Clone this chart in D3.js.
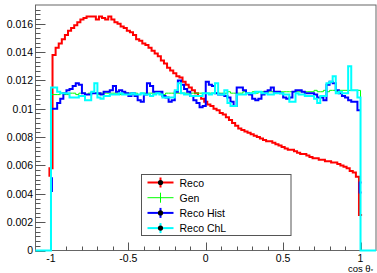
<!DOCTYPE html>
<html lang="en">
<head>
<meta charset="utf-8">
<title>cos theta</title>
<script src="https://d3js.org/d3.v7.min.js"></script>
<style>
  body { margin: 0; background: #fff; }
  svg text { font-family: "Liberation Sans", Arial, sans-serif; fill: #000; }
</style>
</head>
<body>
<div id="chart"></div>
<script>
// histogram binning (cos theta*, 100 bins on [-1,1]; Reco drawn on shifted bins)
var binLo = -1, binWidth = 0.02;
var redLo = -1.01;

// Reco (red)
var redStart = 0.0052;
var recoValues = [0.0058,
  0.0138,0.0143,0.0146,0.0149,0.0152,0.0155,0.0157,0.0159,0.0161,0.0163,
  0.0164,0.0165,0.0165,0.0165,0.0163,0.0165,0.0164,0.0163,0.0165,0.0163,
  0.0161,0.0160,0.0158,0.0157,0.0155,0.0154,0.0152,0.0149,0.0148,0.0146,
  0.0145,0.0143,0.0141,0.0139,0.0137,0.0134,0.0132,0.0129,0.0127,0.0125,
  0.0123,0.0122,0.0119,0.0117,0.0115,0.0113,0.0111,0.0109,0.0107,0.0105,
  0.0103,0.0102,0.0100,0.0099,0.0097,0.0096,0.0094,0.0092,0.0090,0.0088,
  0.0086,0.0085,0.0084,0.0083,0.0082,0.0081,0.0080,0.0079,0.0078,0.0077,
  0.0077,0.0076,0.0075,0.0074,0.0073,0.0072,0.0071,0.0071,0.0070,0.0069,
  0.0068,0.0068,0.0067,0.0066,0.0065,0.0065,0.0064,0.0064,0.0063,0.0063,
  0.0062,0.0062,0.0061,0.0060,0.0059,0.0058,0.0056,0.0055,0.0052,
  0.0025];

// Gen (green)
var genValues = [
  0.0110,0.0110,0.0110,0.0111,0.0110,0.0110,0.0111,0.0111,0.0110,0.0111,
  0.0111,0.0110,0.0111,0.0111,0.0111,0.0110,0.0111,0.0111,0.0111,0.0111,
  0.0111,0.0111,0.0110,0.0111,0.0111,0.0111,0.0111,0.0111,0.0110,0.0111,
  0.0111,0.0111,0.0111,0.0111,0.0111,0.0111,0.0110,0.0111,0.0111,0.0111,
  0.0111,0.0111,0.0111,0.0111,0.0111,0.0111,0.0111,0.0111,0.0111,0.0111,
  0.0111,0.0111,0.0111,0.0111,0.0111,0.0111,0.0111,0.0112,0.0111,0.0111,
  0.0111,0.0111,0.0112,0.0111,0.0111,0.0112,0.0111,0.0112,0.0112,0.0111,
  0.0112,0.0112,0.0112,0.0111,0.0112,0.0112,0.0112,0.0112,0.0112,0.0112,
  0.0112,0.0112,0.0112,0.0112,0.0112,0.0113,0.0112,0.0112,0.0113,0.0112,
  0.0113,0.0113,0.0112,0.0113,0.0113,0.0113,0.0113,0.0113,0.0113,0.0113];

// Reco Hist (blue)
var histValues = [
  0.0100,0.0100,0.0104,0.0107,0.0111,0.0113,0.0114,0.0116,0.0118,0.0117,
  0.0111,0.0110,0.0110,0.0111,0.0111,0.0111,0.0110,0.0112,0.0112,0.0113,
  0.0116,0.0112,0.0113,0.0112,0.0111,0.0109,0.0111,0.0109,0.0106,0.0105,
  0.0110,0.0118,0.0116,0.0112,0.0112,0.0112,0.0109,0.0108,0.0105,0.0106,
  0.0112,0.0120,0.0117,0.0114,0.0112,0.0109,0.0106,0.0104,0.0101,0.0102,
  0.0119,0.0117,0.0116,0.0111,0.0110,0.0110,0.0109,0.0108,0.0105,0.0102,
  0.0115,0.0115,0.0113,0.0111,0.0110,0.0107,0.0106,0.0107,0.0110,0.0112,
  0.0113,0.0115,0.0112,0.0112,0.0111,0.0108,0.0107,0.0108,0.0112,0.0113,
  0.0113,0.0112,0.0111,0.0111,0.0111,0.0110,0.0108,0.0108,0.0106,0.0117,
  0.0119,0.0118,0.0113,0.0111,0.0109,0.0108,0.0106,0.0105,0.0105,0.0099];
// edge bins of Reco Hist drawn as bars [x, hi, lo]
var histEdges = [[-1, 0.0051, 0.0042], [1, 0.0048, 0.0041]];

// Reco ChL (cyan)
var chlValues = [
  0.0115,0.0115,0.0112,0.0111,0.0111,0.0111,0.0108,0.0108,0.0108,0.0109,
  0.0109,0.0106,0.0106,0.0112,0.0118,0.0108,0.0107,0.0109,0.0109,0.0110,
  0.0110,0.0110,0.0111,0.0110,0.0110,0.0110,0.0111,0.0110,0.0110,0.0111,
  0.0110,0.0110,0.0109,0.0110,0.0111,0.0110,0.0108,0.0108,0.0108,0.0108,
  0.0113,0.0118,0.0111,0.0110,0.0110,0.0109,0.0109,0.0109,0.0109,0.0111,
  0.0111,0.0110,0.0111,0.0118,0.0110,0.0110,0.0113,0.0104,0.0102,0.0102,
  0.0110,0.0110,0.0110,0.0111,0.0111,0.0111,0.0112,0.0112,0.0111,0.0111,
  0.0110,0.0110,0.0111,0.0111,0.0111,0.0110,0.0110,0.0105,0.0105,0.0111,
  0.0110,0.0110,0.0109,0.0109,0.0109,0.0107,0.0104,0.0109,0.0109,0.0118,
  0.0119,0.0123,0.0111,0.0112,0.0111,0.0111,0.0130,0.0113,0.0113,0.0108];

var xTicks = [-1, -0.5, 0, 0.5, 1];
var xTickLabels = ["-1", "-0.5", "0", "0.5", "1"];
var yTicks = [0, 0.002, 0.004, 0.006, 0.008, 0.01, 0.012, 0.014, 0.016];
var yTickLabels = ["0", "0.002", "0.004", "0.006", "0.008", "0.01", "0.012", "0.014", "0.016"];
var legendNames = ["Reco", "Gen", "Reco Hist", "Reco ChL"];
var legendColors = ["#ff0000", "#00ff00", "#0000ff", "#00ffff"];
var legendMarker = [true, false, true, true];

var width = 377, height = 273;
var padL = 35.5, padR = 376, padT = 5, padB = 250.5;

var x = d3.scaleLinear().domain([-1.1, 1.1]).range([padL, padR]);
var y = d3.scaleLinear().domain([0, 0.01732]).range([padB, padT]);

var svg = d3.select("#chart").append("svg")
    .attr("width", width)
    .attr("height", height);

// frame
svg.append("rect")
    .attr("x", padL).attr("y", padT)
    .attr("width", padR - padL).attr("height", padB - padT)
    .attr("fill", "none").attr("stroke", "#666").attr("stroke-width", 1);

// y axis ticks (inside)
var yMinor = d3.range(0, 0.01732, 0.002 / 6);
svg.selectAll(".ymin").data(yMinor).enter().append("line")
    .attr("x1", padL).attr("x2", padL + 5)
    .attr("y1", function(d) { return Math.round(y(d)) + 0.5; })
    .attr("y2", function(d) { return Math.round(y(d)) + 0.5; })
    .attr("stroke", "#555");
svg.selectAll(".ymaj").data(yTicks).enter().append("line")
    .attr("x1", padL).attr("x2", padL + 10)
    .attr("y1", function(d) { return Math.round(y(d)) + 0.5; })
    .attr("y2", function(d) { return Math.round(y(d)) + 0.5; })
    .attr("stroke", "#555");
svg.selectAll(".ylab").data(yTicks).enter().append("text")
    .attr("x", 33)
    .attr("y", function(d) { return y(d) + 3.8; })
    .attr("text-anchor", "end")
    .style("font-size", "10.5px")
    .text(function(d, i) { return yTickLabels[i]; });

// x axis ticks (inside)
var xMinor = d3.range(-1, 1.05, 0.1);
svg.selectAll(".xmin").data(xMinor).enter().append("line")
    .attr("x1", function(d) { return Math.round(x(d)) + 0.5; })
    .attr("x2", function(d) { return Math.round(x(d)) + 0.5; })
    .attr("y1", padB).attr("y2", padB - 4)
    .attr("stroke", "#555");
svg.selectAll(".xmaj").data(xTicks).enter().append("line")
    .attr("x1", function(d) { return Math.round(x(d)) + 0.5; })
    .attr("x2", function(d) { return Math.round(x(d)) + 0.5; })
    .attr("y1", padB).attr("y2", padB - 8)
    .attr("stroke", "#555");
svg.selectAll(".xlab").data(xTicks).enter().append("text")
    .attr("x", function(d) { return x(d); })
    .attr("y", 262)
    .attr("text-anchor", "middle")
    .style("font-size", "10.5px")
    .text(function(d, i) { return xTickLabels[i]; });

// axis title
var title = svg.append("text")
    .attr("x", 373).attr("y", 271.5)
    .attr("text-anchor", "end")
    .style("font-size", "9.5px");
title.append("tspan").text("cos θ");
title.append("tspan").attr("dy", 1.5).style("font-size", "6px").text("*");

// step path for a histogram
function stepPath(lo, w, values, startVal, closeZero) {
  var p = d3.path();
  p.moveTo(x(lo), y(startVal));
  values.forEach(function(v, i) {
    p.lineTo(x(lo + i * w), y(v));
    p.lineTo(x(lo + (i + 1) * w), y(v));
  });
  if (closeZero) p.lineTo(x(lo + values.length * w), y(0));
  return p.toString();
}

var plot = svg.append("g");

plot.append("path")
    .attr("d", stepPath(redLo, binWidth, recoValues, redStart, false))
    .attr("fill", "none").attr("stroke", "#ff0000").attr("stroke-width", 2);

plot.append("path")
    .attr("d", stepPath(binLo, binWidth, genValues, 0, true))
    .attr("fill", "none").attr("stroke", "#00ff00").attr("stroke-width", 1);

plot.append("path")
    .attr("d", stepPath(binLo, binWidth, histValues, histValues[0], false))
    .attr("fill", "none").attr("stroke", "#0000ff").attr("stroke-width", 2);

// blue edge bars
histEdges.forEach(function(e) {
  var s = e[0] < 0 ? 1 : -1;
  var xi = x(e[0] + s * 0.006), xo = x(e[0] - s * 0.006);
  var p = d3.path();
  p.moveTo(xo, y(e[1])); p.lineTo(xi, y(e[1]));
  p.lineTo(xi, y(e[2])); p.lineTo(xo, y(e[2]));
  plot.append("path").attr("d", p.toString())
      .attr("fill", "none").attr("stroke", "#0000ff").attr("stroke-width", 2);
});

// cyan with zero outside [-1,1]
var chlPath = d3.path();
chlPath.moveTo(x(-1.1), y(0));
chlPath.lineTo(x(binLo), y(0));
chlValues.forEach(function(v, i) {
  chlPath.lineTo(x(binLo + i * binWidth), y(v));
  chlPath.lineTo(x(binLo + (i + 1) * binWidth), y(v));
});
chlPath.lineTo(x(binLo + chlValues.length * binWidth), y(0));
chlPath.lineTo(x(1.1), y(0));
plot.append("path")
    .attr("d", chlPath.toString())
    .attr("fill", "none").attr("stroke", "#00ffff").attr("stroke-width", 2);

// legend
var lg = svg.append("g").attr("transform", "translate(141.5,174.5)");
lg.append("rect")
    .attr("width", 149.5).attr("height", 61)
    .attr("fill", "#fff").attr("stroke", "#555").attr("stroke-width", 1);
var row = lg.selectAll(".row").data(legendNames).enter().append("g")
    .attr("transform", function(d, i) { return "translate(0," + (8 + i * 15.2) + ")"; });
row.append("line")
    .attr("x1", 6).attr("x2", 32).attr("y1", 0).attr("y2", 0)
    .attr("stroke", function(d, i) { return legendColors[i]; })
    .attr("stroke-width", function(d, i) { return legendMarker[i] ? 2 : 1; });
row.append("line")
    .attr("x1", 19).attr("x2", 19).attr("y1", -5).attr("y2", 5)
    .attr("stroke", function(d, i) { return legendColors[i]; })
    .attr("stroke-width", function(d, i) { return legendMarker[i] ? 2 : 1; });
row.filter(function(d, i) { return legendMarker[i]; }).append("circle")
    .attr("cx", 19).attr("cy", 0).attr("r", 2.6).attr("fill", "#000");
row.append("text")
    .attr("x", 38).attr("y", 4)
    .style("font-size", "10.5px")
    .text(function(d) { return d; });
</script>
</body>
</html>
